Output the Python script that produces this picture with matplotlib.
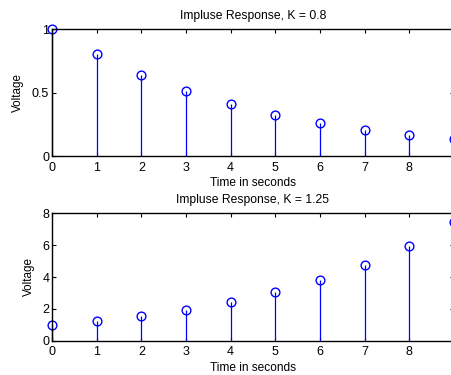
import matplotlib
matplotlib.use("Agg")
import matplotlib.pyplot as plt
import numpy as np

plt.rcParams['font.family'] = ['Liberation Sans', 'DejaVu Sans']

t = [0, 1, 2, 3, 4, 5, 6, 7, 8, 9]
v_decay = [1.0, 0.8, 0.64, 0.512, 0.41, 0.328, 0.262, 0.21, 0.168, 0.134]
v_grow = [1.0, 1.25, 1.5625, 1.953, 2.441, 3.052, 3.815, 4.768, 5.96, 7.451]
titles = ["Impluse Response, K = 0.8", "Impluse Response, K = 1.25"]
xticks = [0, 1, 2, 3, 4, 5, 6, 7, 8]
yticks_top = [0, 0.5, 1]
yticklabels_top = ["0", "0.5", "1"]
yticks_bot = [0, 2, 4, 6, 8]

W, H = 452, 375
fig = plt.figure(figsize=(W / 100, H / 100), dpi=100)

def px_axes(x0, y0, x1, y1):
    return fig.add_axes([x0 / W, 1 - y1 / H, (x1 - x0) / W, (y1 - y0) / H])

ax1 = px_axes(52, 29, 454, 156.3)
ax2 = px_axes(52, 213.3, 454, 340.7)

def draw(ax, y, title, ylim, yticks, ylabels, ylabelpad):
    ml, sl, bl = ax.stem(t, y, linefmt='-', markerfmt='o', basefmt=' ')
    plt.setp(sl, color='#0000ff', linewidth=0.9)
    plt.setp(ml, markerfacecolor='none', markeredgecolor='#0000ff',
             markersize=6.3, markeredgewidth=1.0, clip_on=False)
    sl.set_clip_on(False)
    ax.set_xlim(0, 9)
    ax.set_ylim(*ylim)
    ax.set_xticks(xticks)
    ax.set_yticks(yticks)
    ax.set_yticklabels(ylabels)
    ax.tick_params(direction='in', length=3, width=0.8, labelsize=9,
                   top=True, right=True)
    ax.tick_params(axis='x', pad=4)
    ax.tick_params(axis='y', pad=2)
    for s in ax.spines.values():
        s.set_linewidth(1.0)
    ax.set_title(title, fontsize=8.7, pad=7.5)
    ax.set_xlabel("Time in seconds", fontsize=8.6, labelpad=2.5)
    ax.set_ylabel("Voltage", fontsize=8.4, labelpad=ylabelpad)

draw(ax1, v_decay, titles[0], (0, 1), yticks_top, yticklabels_top, 5.5)
draw(ax2, v_grow, titles[1], (0, 8), yticks_bot, [str(v) for v in yticks_bot], 5.0)

fig.savefig("out.png", dpi=100)
